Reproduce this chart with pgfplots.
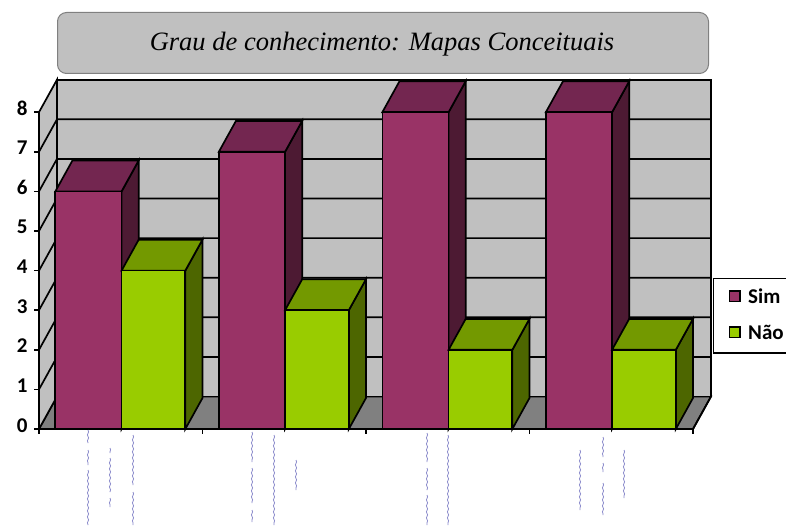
\documentclass[border=0pt]{standalone}
\usepackage{fontspec}
\setmainfont{Carlito}
\newfontfamily\titlefont{Liberation Serif}
\usepackage{pgfplots}
\pgfplotsset{compat=1.18}
\usetikzlibrary{decorations.pathmorphing}

\definecolor{simF}{HTML}{993366}
\definecolor{simT}{HTML}{732650}
\definecolor{simS}{HTML}{4D1A33}
\definecolor{naoF}{HTML}{99CC00}
\definecolor{naoT}{HTML}{739900}
\definecolor{naoS}{HTML}{4D6600}
\definecolor{wall}{HTML}{C0C0C0}
\definecolor{floorc}{HTML}{808080}
\definecolor{scrib}{HTML}{8C8CCC}

% One column as a box: left x, right x, value, colour prefix
\newcommand{\column}[4]{%
  \addplot3[fill=#4S,draw=black,line width=1.7pt,forget plot] coordinates {(#2,0,0) (#2,0.95,0) (#2,0.95,#3) (#2,0,#3)} -- cycle;
  \addplot3[fill=#4T,draw=black,line width=1.7pt,forget plot] coordinates {(#1,0,#3) (#2,0,#3) (#2,0.95,#3) (#1,0.95,#3)} -- cycle;
  \addplot3[fill=#4F,draw=black,line width=1.7pt,forget plot] coordinates {(#1,0,0) (#2,0,0) (#2,0,#3) (#1,0,#3)} -- cycle;
}
% One gridline across side wall and back wall, with its short tick
\newcommand{\gridat}[1]{%
  \addplot3[black,line width=1.7pt,forget plot] coordinates {(0,0,#1) (0,1,#1) (4,1,#1)};
}
\newcommand{\ztickat}[1]{%
  \addplot3[black,line width=1.7pt,forget plot] coordinates {(-0.03,0,#1) (0,0,#1)};
}
\newcommand{\xtickat}[1]{%
  \addplot3[black,line width=1.7pt,forget plot] coordinates {(#1,0,0) (#1,0,-0.12)};
}
% Small illegible category text, drawn as pale vertical strokes
\newcommand{\scribble}[3]{%
  \draw[scrib,line width=0.8pt,decorate,decoration={snake,amplitude=0.6pt,segment length=6pt}] (#1,525-#2) -- (#1,525-#3);
}

\begin{document}
\begin{tikzpicture}[x=1pt,y=1pt]
\useasboundingbox (0,0) rectangle (786,525);
\clip (0,0) rectangle (786,525);
\fill[white] (0,0) rectangle (786,525);

\draw[fill=wall,draw=floorc,line width=1pt,rounded corners=9pt] (57.5,525-12.5) rectangle (708.5,525-73.5);
\node[font=\titlefont\itshape\fontsize{26.5}{30}\selectfont,anchor=center] at (382,525-44) {Grau de conhecimento: Mapas Conceituais};

\begin{axis}[
  at={(39pt,96pt)},anchor=origin,
  x={(163.5pt,0pt)},y={(18pt,32.5pt)},z={(0pt,39.6pt)},
  xmin=0,xmax=4,ymin=0,ymax=1,zmin=0,zmax=8,
  clip=false,
  axis on top,
  axis lines=left,
  axis line style={black,line width=1.7pt,-},
  xtick=\empty,
  ytick=\empty,
  ztick={0,1,2,3,4,5,6,7,8},
  major tick length=0pt,
  z tick label style={font=\bfseries\fontsize{21}{23}\selectfont,/pgf/number format/assume math mode=true,xshift=-8pt,yshift=9pt},
]
% walls and floor
\addplot3[fill=floorc,draw=black,line width=1.7pt,forget plot] coordinates {(0,0,0) (4,0,0) (4,1,0) (0,1,0)} -- cycle;
\addplot3[fill=wall,draw=black,line width=1.7pt,forget plot] coordinates {(0,0,0) (0,1,0) (0,1,8) (0,0,8)} -- cycle;
\addplot3[fill=wall,draw=black,line width=1.7pt,forget plot] coordinates {(0,1,0) (4,1,0) (4,1,8) (0,1,8)} -- cycle;
\gridat{1}\gridat{2}\gridat{3}\gridat{4}\gridat{5}\gridat{6}\gridat{7}
\ztickat{0}\ztickat{1}\ztickat{2}\ztickat{3}\ztickat{4}\ztickat{5}\ztickat{6}\ztickat{7}\ztickat{8}
\xtickat{0}\xtickat{1}\xtickat{2}\xtickat{3}\xtickat{4}

% Sim / Não per category
\column{0.1}{0.505}{6}{sim}
\column{0.505}{0.895}{4}{nao}
\column{1.1}{1.505}{7}{sim}
\column{1.505}{1.895}{3}{nao}
\column{2.1}{2.505}{8}{sim}
\column{2.505}{2.895}{2}{nao}
\column{3.1}{3.505}{8}{sim}
\column{3.505}{3.895}{2}{nao}
\end{axis}

% legend
\draw[fill=white,draw=black,line width=1.7pt] (713.5,525-278.5) rectangle (800,525-353);
\draw[fill=simF,draw=black,line width=1.5pt] (729.5,525-291) rectangle (740,525-301.5);
\draw[fill=naoF,draw=black,line width=1.5pt] (729.5,525-327) rectangle (740,525-337.5);
\node[font=\bfseries\fontsize{21}{23}\selectfont,anchor=west,inner sep=0pt] at (748,525-296) {Sim};
\node[font=\bfseries\fontsize{21}{23}\selectfont,anchor=west,inner sep=0pt] at (748,525-332) {Não};

% category text
\scribble{88}{430}{443}\scribble{88}{450}{465}\scribble{88}{470}{525}
\scribble{110}{448}{453}\scribble{110}{458}{492}\scribble{110}{498}{507}
\scribble{133}{435}{485}\scribble{133}{492}{525}
\scribble{252}{432}{462}\scribble{252}{468}{503}\scribble{252}{510}{522}
\scribble{274}{435}{525}
\scribble{296}{460}{490}
\scribble{427}{433}{462}\scribble{427}{468}{490}\scribble{427}{495}{525}
\scribble{448}{435}{525}
\scribble{580}{450}{510}
\scribble{603}{437}{457}\scribble{603}{463}{472}\scribble{603}{483}{515}
\scribble{624}{450}{498}
\end{tikzpicture}
\end{document}
